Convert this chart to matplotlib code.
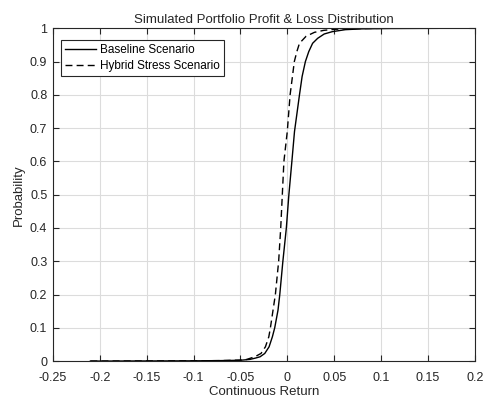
import matplotlib
matplotlib.use("Agg")
import matplotlib.pyplot as plt

plt.rcParams["font.family"] = ["Liberation Sans", "DejaVu Sans"]

baseline_x = [-0.21, -0.15, -0.10, -0.07, -0.05, -0.04, -0.034, -0.029, -0.024,
              -0.0194, -0.0159, -0.0134, -0.0099, -0.008, -0.0047, -0.001,
              0.0017, 0.0049, 0.0077, 0.013, 0.0158, 0.0193, 0.0229, 0.027,
              0.0324, 0.0394, 0.048, 0.062, 0.08, 0.11, 0.16]
baseline_p = [0.0, 0.0004, 0.0008, 0.0015, 0.0025, 0.005, 0.009, 0.013, 0.023,
              0.043, 0.073, 0.1, 0.153, 0.2, 0.3, 0.4,
              0.5, 0.6, 0.69, 0.8, 0.855, 0.9, 0.93, 0.955,
              0.97, 0.983, 0.99, 0.996, 0.9985, 0.9995, 1.0]

hybrid_x = [-0.21, -0.15, -0.10, -0.07, -0.05, -0.0433, -0.0346, -0.028,
            -0.0233, -0.0197, -0.018, -0.0152, -0.0127, -0.0092, -0.007,
            -0.0053, -0.0036, 0.0, 0.003, 0.0055, 0.0075, 0.0102, 0.013,
            0.020, 0.029, 0.039, 0.05, 0.07, 0.1]
hybrid_p = [0.0, 0.0004, 0.0008, 0.0015, 0.003, 0.005, 0.013, 0.023,
            0.043, 0.073, 0.1, 0.153, 0.2, 0.3, 0.4,
            0.5, 0.6, 0.69, 0.8, 0.855, 0.9, 0.93, 0.955,
            0.976, 0.988, 0.994, 0.997, 0.999, 1.0]

series_labels = ["Baseline Scenario", "Hybrid Stress Scenario"]
xticks = [-0.25, -0.2, -0.15, -0.1, -0.05, 0, 0.05, 0.1, 0.15, 0.2]
yticks = [0, 0.1, 0.2, 0.3, 0.4, 0.5, 0.6, 0.7, 0.8, 0.9, 1]

fig = plt.figure(figsize=(4.85, 3.99), dpi=100)
ax = fig.add_axes([0.109, 0.095, 0.870, 0.834])

ax.plot(baseline_x, baseline_p, color="black", linestyle="-", linewidth=1.0,
        label=series_labels[0])
ax.plot(hybrid_x, hybrid_p, color="black", linestyle=(0, (5, 3)), linewidth=1.0,
        label=series_labels[1])

ax.set_xlim(-0.25, 0.2)
ax.set_ylim(0, 1)
ax.set_xticks(xticks)
ax.set_xticklabels([f"{t:g}" for t in xticks])
ax.set_yticks(yticks)
ax.set_yticklabels([f"{t:g}" for t in yticks])

# MATLAB-like styling
ax.grid(True, color="#dcdcdc", linewidth=0.8)
ax.set_axisbelow(True)
for s in ax.spines.values():
    s.set_color("#262626")
    s.set_linewidth(0.8)
ax.tick_params(direction="in", top=True, right=True, length=4, width=0.8,
               labelsize=9, colors="#262626")
ax.tick_params(axis="x", pad=8)
ax.tick_params(axis="y", pad=4)

ax.set_title("Simulated Portfolio Profit & Loss Distribution", fontsize=9.5,
             color="#262626", pad=4)
ax.set_xlabel("Continuous Return", fontsize=9.5, color="#262626", labelpad=1)
ax.set_ylabel("Probability", fontsize=9.5, color="#262626", labelpad=4)

leg = ax.legend(loc="upper left", bbox_to_anchor=(0.02, 0.965), fontsize=8.5,
                frameon=True, fancybox=False, framealpha=1, edgecolor="#262626",
                handlelength=2.6, borderpad=0.35, labelspacing=0.3,
                handletextpad=0.3, borderaxespad=0)
leg.get_frame().set_linewidth(0.8)

fig.savefig("out.png", dpi=100)
